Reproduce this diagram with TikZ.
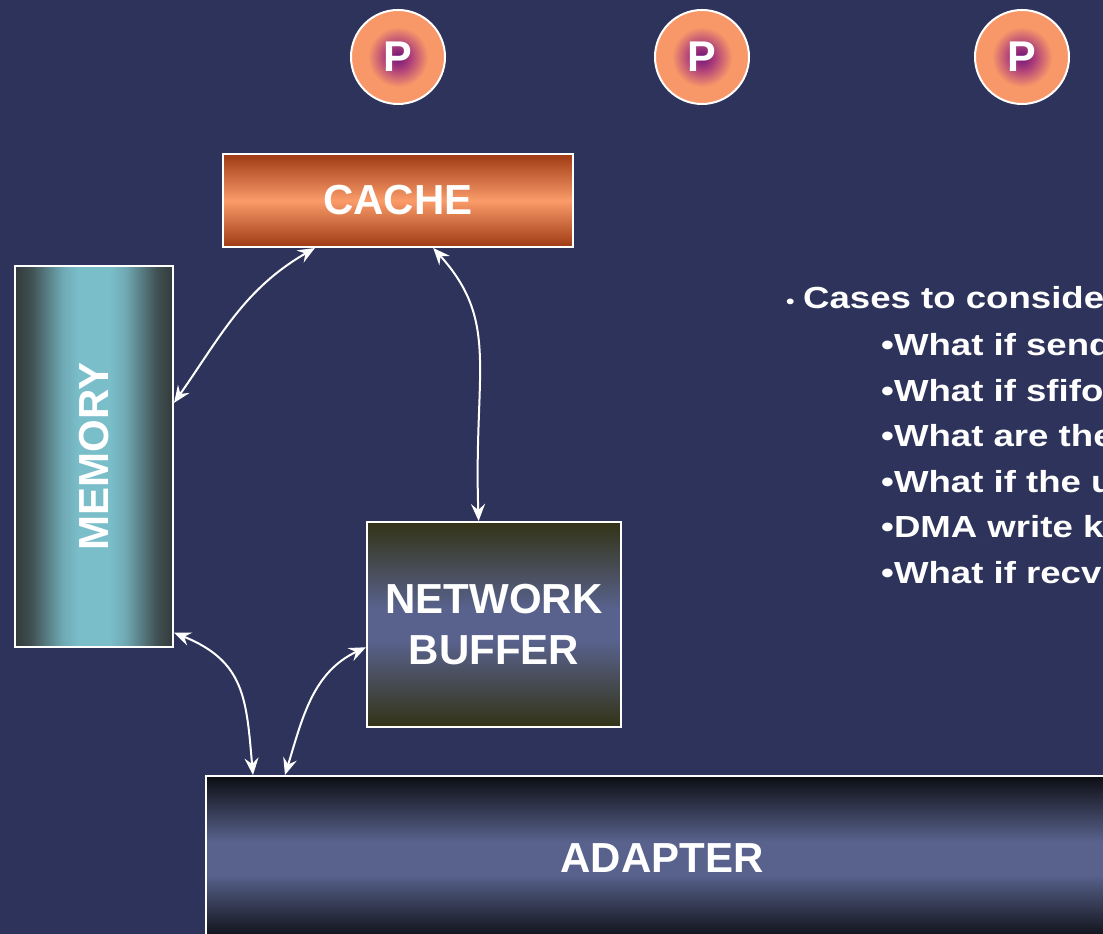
\documentclass[tikz,border=0pt]{standalone}
\usepackage{fontspec}
\setmainfont{Liberation Sans}
\usepackage{graphicx}
\usetikzlibrary{arrows.meta,calc}

% palette
\definecolor{bg}{RGB}{45,51,90}
\definecolor{cacheEdge}{RGB}{158,58,20}
\definecolor{cacheMid}{RGB}{250,155,105}
\definecolor{memEdge}{RGB}{52,58,59}
\definecolor{memMid}{RGB}{122,190,202}
\definecolor{nbEdge}{RGB}{51,51,22}
\definecolor{slate}{RGB}{88,98,140}
\definecolor{adpEdge}{RGB}{12,14,19}
\definecolor{pInner}{RGB}{112,20,122}
\definecolor{pPink}{RGB}{175,65,122}
\definecolor{pOuter}{RGB}{248,152,105}
% soft steps for the memory column
\colorlet{memA}{memMid!16!memEdge}
\colorlet{memB}{memMid!50!memEdge}
\colorlet{memC}{memMid!84!memEdge}

% band shadings: dark edges, light centre
\pgfdeclareverticalshading{cacheband}{100bp}{color(0bp)=(cacheEdge); color(25bp)=(cacheEdge); color(50bp)=(cacheMid); color(75bp)=(cacheEdge); color(100bp)=(cacheEdge)}
\pgfdeclarehorizontalshading{memband}{100bp}{color(0bp)=(memEdge); color(25bp)=(memEdge); color(30bp)=(memA); color(35bp)=(memB); color(40bp)=(memC); color(45bp)=(memMid); color(55bp)=(memMid); color(60bp)=(memC); color(65bp)=(memB); color(70bp)=(memA); color(75bp)=(memEdge); color(100bp)=(memEdge)}
\pgfdeclareverticalshading{nbband}{100bp}{color(0bp)=(nbEdge); color(25bp)=(nbEdge); color(46bp)=(slate); color(54bp)=(slate); color(75bp)=(nbEdge); color(100bp)=(nbEdge)}
\pgfdeclareverticalshading{adpband}{100bp}{color(0bp)=(adpEdge); color(25bp)=(adpEdge); color(45bp)=(slate); color(55bp)=(slate); color(75bp)=(adpEdge); color(100bp)=(adpEdge)}
\pgfdeclareradialshading{pball}{\pgfpoint{0bp}{0bp}}{color(0bp)=(pInner); color(7bp)=(pPink); color(16bp)=(pOuter); color(25bp)=(pOuter); color(50bp)=(pOuter)}

\begin{document}
\begin{tikzpicture}[x=1pt,y=1pt,
  box/.style={draw=white, line width=2pt, inner sep=0pt, shade, text=white,
    align=center, font=\bfseries\fontsize{42}{51.7}\selectfont},
  proc/.style={circle, draw=white, line width=2pt, minimum size=94pt, inner sep=0pt,
    shade, shading=pball, text=white, font=\bfseries\fontsize{43}{50}\selectfont},
  link/.style={draw=white, line width=2pt, >={Stealth[length=17pt,width=14pt,inset=6pt]}, <->},
  note/.style={text=white, inner sep=0pt, anchor=base west,
    font=\bfseries\fontsize{30.5}{36}\selectfont},
  dot/.style={text=white, inner sep=0pt, anchor=base west,
    font=\bfseries\fontsize{20}{24}\selectfont}]
\useasboundingbox (0,0) rectangle (1103,934);
\clip (0,0) rectangle (1103,934);
\fill[bg] (0,0) rectangle (1103,934);

% processors
\node[proc] (p1) at (398,877) {P};
\node[proc] (p2) at (702,877) {P};
\node[proc] (p3) at (1022,877) {P};

% memory hierarchy blocks
\node[box, shading=cacheband, minimum width=350pt, minimum height=93pt] (cache) at (398,733.5) {CACHE};
\node[box, shading=memband, minimum width=158pt, minimum height=381pt] (mem) at (94,477.5) {\rotatebox{90}{MEMORY}};
\node[box, shading=nbband, minimum width=254pt, minimum height=205pt] (nb) at (494,309.5) {NETWORK\\BUFFER};
\node[box, shading=adpband, minimum width=912pt, minimum height=164pt] (adp) at (662,76) {ADAPTER};

% data paths
\draw[link] ($(mem.north east)!0.36!(mem.south east)$) to[out=55,in=210]
  ($(cache.south west)!0.264!(cache.south east)$);
\draw[link] ($(cache.south west)!0.6!(cache.south east)$) .. controls +(-48:100) and +(92:150) ..
  ($(nb.north west)!0.44!(nb.north east)$);
\draw[link] ($(mem.north east)!0.96!(mem.south east)$) to[out=-22,in=95,looseness=1.2]
  ([xshift=48pt]adp.north west);
\draw[link] ([xshift=80pt]adp.north west) to[out=73,in=205]
  ($(nb.north west)!0.61!(nb.south west)$);

% case list
\node[dot] (b0) at (786,625) {\scalebox{1.2}[1]{•}};
\node[note] (c0) at (803,625) {\scalebox{1.2}[1]{Cases to conside}};
\node[note] (c1) at (881,578) {\scalebox{1.2}[1]{•What if send}};
\node[note] (c2) at (881,532.5) {\scalebox{1.2}[1]{•What if sfifo}};
\node[note] (c3) at (881,487) {\scalebox{1.2}[1]{•What are the}};
\node[note] (c4) at (881,441.5) {\scalebox{1.2}[1]{•What if the u}};
\node[note] (c5) at (881,396) {\scalebox{1.2}[1]{•DMA write k}};
\node[note] (c6) at (881,350.5) {\scalebox{1.2}[1]{•What if recv}};
\end{tikzpicture}
\end{document}
